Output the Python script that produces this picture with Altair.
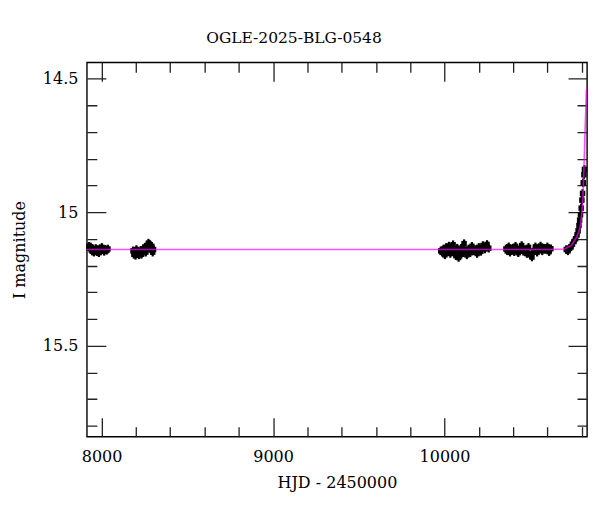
import altair as alt
import pandas as pd

# ---------------- data ----------------
g1_t = [7926, 7931, 7936, 7940, 7945, 7950, 7955, 7960, 7966, 7972, 7978, 7984, 7990, 7996, 8002, 8008, 8015, 8022, 8030, 8037]
g1_m = [15.128, 15.135, 15.130, 15.141, 15.146, 15.138, 15.150, 15.143, 15.136, 15.148, 15.140, 15.152, 15.137, 15.144, 15.132, 15.141, 15.147, 15.139, 15.143, 15.138]

g2_t = [8183, 8188, 8193, 8198, 8203, 8208, 8213, 8218, 8223, 8228, 8233, 8238, 8243, 8248, 8253, 8258, 8263, 8268, 8273, 8278, 8283, 8288, 8293, 8298, 8303]
g2_m = [15.145, 15.158, 15.150, 15.162, 15.140, 15.155, 15.148, 15.160, 15.152, 15.143, 15.158, 15.149, 15.137, 15.146, 15.131, 15.150, 15.138, 15.125, 15.116, 15.120, 15.133, 15.142, 15.128, 15.150, 15.140]

g3_t = [9978, 9986, 9994, 10002, 10010, 10018, 10026, 10034, 10042, 10050, 10058, 10066, 10074, 10082, 10090, 10098, 10106, 10114, 10122, 10130, 10140, 10150, 10160, 10170, 10180, 10190, 10200, 10212, 10224, 10236, 10248, 10258]
g3_m = [15.145, 15.150, 15.138, 15.160, 15.132, 15.148, 15.127, 15.155, 15.142, 15.122, 15.150, 15.163, 15.135, 15.170, 15.148, 15.158, 15.130, 15.118, 15.145, 15.160, 15.138, 15.152, 15.128, 15.145, 15.140, 15.155, 15.132, 15.147, 15.125, 15.138, 15.121, 15.135]

g4_t = [10358, 10366, 10374, 10382, 10390, 10398, 10406, 10414, 10422, 10430, 10440, 10450, 10460, 10470, 10480, 10490, 10500, 10510, 10520, 10530, 10540, 10550, 10560, 10570, 10580, 10590, 10600, 10610, 10620]
g4_m = [15.138, 15.145, 15.130, 15.150, 15.140, 15.135, 15.148, 15.128, 15.143, 15.152, 15.136, 15.125, 15.147, 15.140, 15.155, 15.132, 15.160, 15.168, 15.145, 15.130, 15.150, 15.138, 15.127, 15.145, 15.135, 15.140, 15.130, 15.148, 15.137]

g5_t = [10710, 10720, 10729, 10738, 10746, 10755, 10764, 10773, 10779, 10784, 10788, 10793, 10797, 10801, 10805, 10809, 10813, 10816]
g5_m = [15.140, 15.145, 15.135, 15.130, 15.120, 15.110, 15.100, 15.085, 15.070, 15.050, 15.030, 15.010, 14.985, 14.955, 14.930, 14.890, 14.860, 14.840]

err_base = 0.016
err_rise = 0.016

model_t = [7914, 10600, 10700, 10740, 10770, 10785, 10795, 10803, 10808, 10813, 10818, 10823, 10828]
model_m = [15.140, 15.140, 15.138, 15.125, 15.095, 15.070, 15.040, 14.990, 14.930, 14.840, 14.730, 14.630, 14.540]

x_major_vals = [8000, 9000, 10000]
x_minor_vals = [8200, 8400, 8600, 8800, 9200, 9400, 9600, 9800, 10200, 10400, 10600, 10800]
y_major_vals = [14.5, 15.0, 15.5]
y_minor_vals = [14.6, 14.7, 14.8, 14.9, 15.1, 15.2, 15.3, 15.4, 15.6, 15.7, 15.8]

x_domain = [7914, 10831]
y_domain = [14.439, 15.841]

# ---------------- build tables ----------------
rows = []
for ts, ms, e in [(g1_t, g1_m, err_base), (g2_t, g2_m, err_base), (g3_t, g3_m, err_base),
                  (g4_t, g4_m, err_base), (g5_t, g5_m, err_rise)]:
    for t, m in zip(ts, ms):
        rows.append({"t": t, "m": m, "lo": m - e, "hi": m + e})
pts = pd.DataFrame(rows)
model = pd.DataFrame({"t": model_t, "m": model_m})

W, H = 501, 375
FONT = "DejaVu Serif"
TICK = "#222222"

xs = alt.Scale(domain=x_domain, nice=False, zero=False)
ys = alt.Scale(domain=y_domain, nice=False, zero=False, reverse=True)

common_lab = dict(labelFont=FONT, labelFontSize=16, labelColor="black",
                  titleFont=FONT, titleFontSize=16, titleFontWeight="normal", titleColor="black",
                  ticks=False, domain=False, grid=True, gridColor=TICK, gridWidth=1.3, gridOpacity=1)

x_major = alt.Axis(values=x_major_vals, format="d", title="HJD - 2450000", orient="bottom",
                   gridDash=[19, H - 38, 19], labelPadding=12, titlePadding=10, **common_lab)
y_major = alt.Axis(values=y_major_vals, format="~g", title="I magnitude", orient="left",
                   gridDash=[19, W - 38, 19], labelPadding=9, titlePadding=15, **common_lab)

x_minor = alt.Axis(values=x_minor_vals, orient="bottom", labels=False, title=None, ticks=False,
                   domain=False, grid=True, gridColor=TICK, gridWidth=1.3, gridOpacity=1,
                   gridDash=[10, H - 20, 10])
y_minor = alt.Axis(values=y_minor_vals, orient="left", labels=False, title=None, ticks=False,
                   domain=False, grid=True, gridColor=TICK, gridWidth=1.3, gridOpacity=1,
                   gridDash=[10, W - 20, 10])

bars = alt.Chart(pts).mark_rule(color="black", strokeWidth=2.2).encode(
    x=alt.X("t:Q", scale=xs, axis=x_minor),
    y=alt.Y("lo:Q", scale=ys, axis=y_minor),
    y2="hi:Q",
)

squares = alt.Chart(pts).mark_square(color="black", size=30, opacity=1).encode(
    x=alt.X("t:Q", scale=xs, axis=x_major),
    y=alt.Y("m:Q", scale=ys, axis=y_major),
)

line = alt.Chart(model).mark_line(color="#ff00ff", strokeWidth=1.6, opacity=0.7, clip=True).encode(
    x=alt.X("t:Q", scale=xs, axis=None),
    y=alt.Y("m:Q", scale=ys, axis=None),
)

chart = alt.layer(bars, squares, line).resolve_axis(x="independent", y="independent").properties(
    width=W, height=H,
    title=alt.TitleParams("OGLE-2025-BLG-0548", font=FONT, fontSize=15.5, fontWeight="normal",
                          color="black", anchor="middle", dx=-43, offset=4, baseline="alphabetic"),
    autosize=alt.AutoSizeParams(type="none"),
    padding={"left": 79, "top": 54, "right": 5, "bottom": 70},
).configure_view(stroke="black", strokeWidth=1.4)

chart.save("out.html", embed_options={"renderer": "svg", "actions": False})
